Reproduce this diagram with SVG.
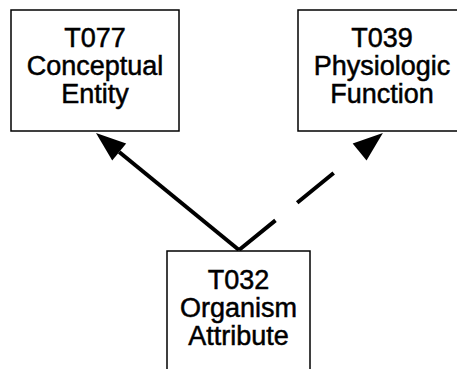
<svg xmlns="http://www.w3.org/2000/svg" width="457" height="369" viewBox="0 0 457 369">
  <style>
    .box { fill: #ffffff; stroke: #000000; stroke-width: 1.5; }
    .label { font-family: "Liberation Sans", Arial, sans-serif; font-size: 27px; fill: #000000; stroke: #000000; stroke-width: 0.5; text-anchor: middle; }
    .link { stroke: #000000; stroke-width: 4; fill: none; }
    .dashed { stroke-dasharray: 47 28 47 40; }
  </style>
  <defs>
    <marker id="head" markerUnits="userSpaceOnUse" markerWidth="32" markerHeight="26" refX="0" refY="12" orient="auto" overflow="visible">
      <path d="M0,1 L30,12 L0,23 Z" fill="#000000"/>
    </marker>
  </defs>
  <rect width="457" height="369" fill="#ffffff"/>

  <g id="connectors">
    <line class="link" x1="239" y1="250" x2="119.2" y2="152" marker-end="url(#head)"/>
    <line class="link dashed" x1="239" y1="250" x2="359.6" y2="152" marker-end="url(#head)"/>
  </g>

  <g id="T077">
    <rect class="box" x="11" y="10" width="168" height="121"/>
    <text class="label" x="95" y="47">T077</text>
    <text class="label" x="95" y="75">Conceptual</text>
    <text class="label" x="95" y="103">Entity</text>
  </g>

  <g id="T039">
    <rect class="box" x="298" y="10" width="168" height="121"/>
    <text class="label" x="382" y="47">T039</text>
    <text class="label" x="382" y="75">Physiologic</text>
    <text class="label" x="382" y="103">Function</text>
  </g>

  <g id="T032">
    <rect class="box" x="167" y="251" width="143" height="130"/>
    <text class="label" x="238.5" y="289">T032</text>
    <text class="label" x="238.5" y="317">Organism</text>
    <text class="label" x="238.5" y="345">Attribute</text>
  </g>
</svg>
